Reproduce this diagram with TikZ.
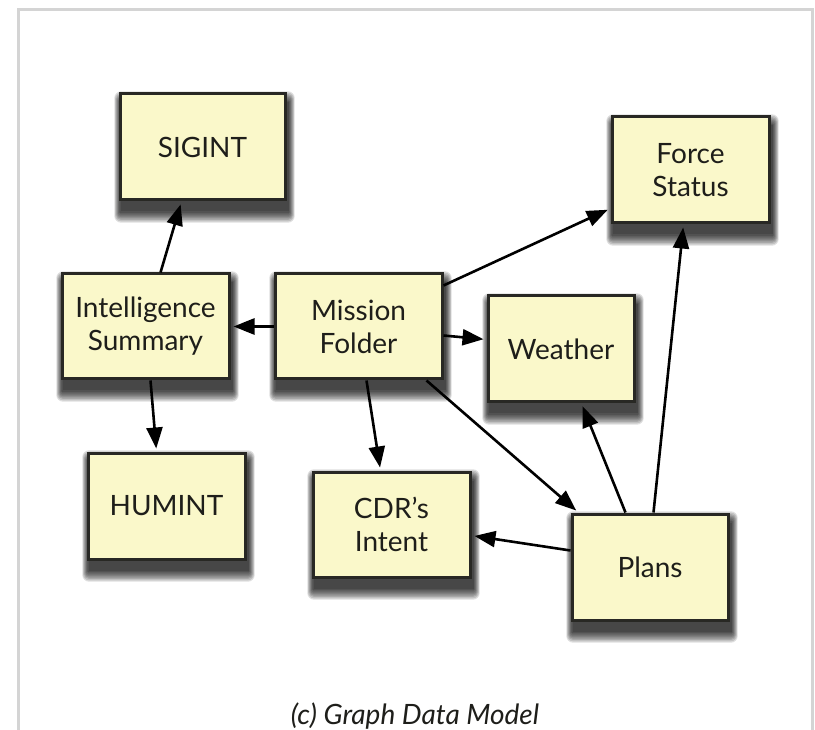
\documentclass[tikz,border=0pt]{standalone}
\usepackage{fontspec}
\setmainfont{Lato}
\usetikzlibrary{arrows.meta}
\definecolor{boxfill}{RGB}{250,248,202}
\definecolor{boxline}{RGB}{40,40,36}
\definecolor{framegray}{RGB}{212,212,212}
\definecolor{inkgray}{RGB}{30,30,26}
\pgfdeclarelayer{paper}
\pgfdeclarelayer{shade}
\pgfsetlayers{paper,shade,main}
\tikzset{
  entity/.style={draw=boxline, line width=3pt, fill=boxfill, inner sep=0pt,
    align=center, text=inkgray, font=\fontsize{28}{33}\selectfont},
  link/.style={line width=2.6pt, draw=black, -{Triangle[length=21pt,width=16pt]}, shorten >=3pt}
}
% soft drop shadow under a named box: stacked, widening translucent rectangles
\newcommand{\softshade}[1]{%
  \begin{pgfonlayer}{shade}
    \foreach \r in {0,1.4,...,11.2}{%
      \fill[black, opacity=0.13, rounded corners=0.6*\r pt]
        ([xshift=2pt-0.55*\r pt, yshift=-10pt-\r pt]#1.south west) rectangle
        ([xshift=2pt+0.55*\r pt, yshift=-10pt+\r pt]#1.north east);
    }
  \end{pgfonlayer}}
\begin{document}
\begin{tikzpicture}[x=1pt,y=1pt]
\useasboundingbox (0,0) rectangle (815,-730);
\clip (0,0) rectangle (815,-730);
\begin{pgfonlayer}{paper}
  \fill[white] (0,0) rectangle (815,-730);
  % outer frame
  \draw[framegray, line width=3pt] (18,-760) -- (18,-10) -- (812,-10) -- (812,-760);
\end{pgfonlayer}

% entities
\node[entity, minimum width=165pt, minimum height=106pt] (sigint)  at (202.5,-147)   {SIGINT};
\node[entity, minimum width=167pt, minimum height=105pt] (intsum)  at (145.5,-326.5) {Intelligence\\Summary};
\node[entity, minimum width=167pt, minimum height=105pt] (mission) at (358.5,-326.5) {Mission\\Folder};
\node[entity, minimum width=157pt, minimum height=106pt] (force)   at (690.5,-170)   {Force\\Status};
\node[entity, minimum width=146pt, minimum height=106pt] (weather) at (561,-349)     {Weather};
\node[entity, minimum width=157pt, minimum height=106pt] (humint)  at (166.5,-506)   {HUMINT};
\node[entity, minimum width=157pt, minimum height=105pt] (cdr)     at (391.5,-524.5) {CDR's\\Intent};
\node[entity, minimum width=156pt, minimum height=106pt] (plans)   at (650,-567)     {Plans};

\foreach \b in {sigint,intsum,mission,force,weather,humint,cdr,plans}{\softshade{\b}}

% relationships
\draw[link] ([xshift=100pt]intsum.north west) -- ([xshift=63pt]sigint.south west);
\draw[link] (mission.west) -- (intsum.east);
\draw[link] ([xshift=90pt]intsum.south west) -- ([xshift=70pt]humint.north west);
\draw[link] ([xshift=93pt]mission.south west) -- ([xshift=69pt]cdr.north west);
\draw[link] ([yshift=-13pt]mission.north east) -- ([yshift=-93pt]force.north west);
\draw[link] ([yshift=-63pt]mission.north east) -- ([yshift=-45pt]weather.north west);
\draw[link] ([xshift=-17pt]mission.south east) -- ([xshift=8pt]plans.north west);
\draw[link] ([xshift=55pt]plans.north west) -- ([xshift=95pt]weather.south west);
\draw[link] ([xshift=83pt]plans.north west) -- ([xshift=73pt]force.south west);
\draw[link] ([yshift=-38pt]plans.north west) -- ([yshift=-65pt]cdr.north east);

% caption
\node[anchor=base, text=inkgray, font=\fontsize{28}{32}\selectfont\itshape, inner sep=0pt] (caption) at (415,-724) {(c) Graph Data Model};
\end{tikzpicture}
\end{document}
